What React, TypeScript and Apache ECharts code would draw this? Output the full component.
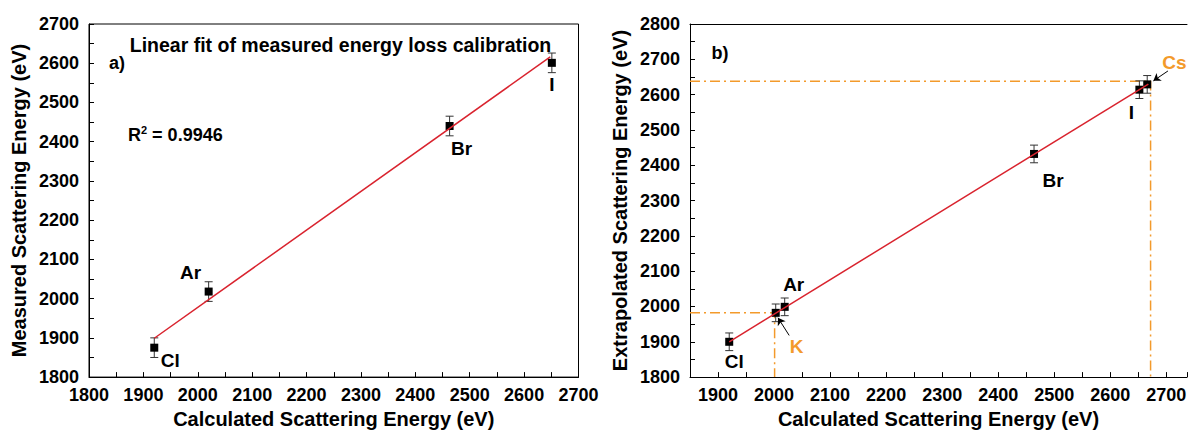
import React, { useEffect, useRef } from "react";
import * as echarts from "echarts";

// Panel a) measured vs calculated scattering energy
const elementsA = ["Cl", "Ar", "Br", "I"];
const calcA = [1920, 2020, 2463, 2651];
const measA = [1875, 2018, 2440, 2601];
const errA = [25, 25, 25, 25];
const fitAx = [1920, 2648];
const fitAy = [1899, 2616];

// Panel b) extrapolated vs calculated scattering energy
const elementsB = ["Cl", "K", "Ar", "Br", "I", "Cs"];
const calcB = [1920, 2003, 2019, 2464, 2652, 2666];
const extrapB = [1900, 1982, 1999, 2432, 2614, 2629];
const errB = [25, 25, 25, 25, 25, 25];
const fitBx = [1920, 2668];
const fitBy = [1900, 2630];

// read-off guides for K and Cs
const guideK = { x: 2001, y: 1982 };
const guideCs = { x: 2672, y: 2638 };

// arrows from the K / Cs labels to their markers
const arrowK = [[2027, 1918], [2007, 1968]];
const arrowCs = [[2703, 2667], [2677, 2639]];

const titleA = "Linear fit of measured energy loss calibration";
const r2Text = "0.9946";
const xTitle = "Calculated Scattering Energy (eV)";
const yTitleA = "Measured Scattering Energy (eV)";
const yTitleB = "Extrapolated Scattering Energy (eV)";

const FONT = "'Liberation Sans', Arial, sans-serif";
const ORANGE = "#F39A2B";
const RED = "#D9232E";

const labelOffsets: Record<string, number[]> = {
  "a-Cl": [16, 13],
  "a-Ar": [-18, -19],
  "a-Br": [12, 22],
  "a-I": [0, 22],
  "b-Cl": [5, 20],
  "b-K": [21, 34],
  "b-Ar": [9, -22],
  "b-Br": [19, 27],
  "b-I": [-8, 23],
  "b-Cs": [15, -22],
};

function makeAxis(gridIndex: number, min: number, max: number, name: string, nameGap: number, vertical: boolean) {
  return {
    type: "value",
    gridIndex,
    min,
    max,
    interval: 50,
    name,
    nameLocation: "middle",
    nameGap,
    nameTextStyle: { fontSize: 20, fontWeight: "bold", color: "#000", fontFamily: FONT },
    axisLine: { show: true, onZero: false, lineStyle: { color: "#000", width: 1 } },
    axisTick: { show: true, inside: true, length: 5, lineStyle: { color: "#000", width: 1 } },
    axisLabel: {
      formatter: (v: number) => (v % 100 === 0 ? String(v) : ""),
      fontSize: 18,
      fontWeight: "bold",
      color: "#000",
      fontFamily: FONT,
      margin: vertical ? 10 : 9,
      showMinLabel: true,
      showMaxLabel: true,
    },
    splitLine: { show: false },
  };
}

// plain frame line along the top of a panel
function topFrame(gridIndex: number, min: number, max: number) {
  return {
    type: "value",
    gridIndex,
    position: "top",
    min,
    max,
    axisLine: { show: true, onZero: false, lineStyle: { color: "#000", width: 1 } },
    axisTick: { show: false },
    axisLabel: { show: false },
    splitLine: { show: false },
  };
}

function errorBars(ax: number, xs: number[], ys: number[], es: number[]) {
  return {
    type: "custom",
    xAxisIndex: ax,
    yAxisIndex: ax,
    z: 2,
    silent: true,
    data: xs.map((x, i) => [x, ys[i], es[i]]),
    renderItem: (_p: any, api: any) => {
      const x = api.value(0);
      const y = api.value(1);
      const e = api.value(2);
      const top = api.coord([x, y + e]);
      const bot = api.coord([x, y - e]);
      const cap = 4;
      const st = { stroke: "#333", lineWidth: 1 };
      return {
        type: "group",
        children: [
          { type: "line", shape: { x1: top[0], y1: top[1], x2: bot[0], y2: bot[1] }, style: st },
          { type: "line", shape: { x1: top[0] - cap, y1: top[1], x2: top[0] + cap, y2: top[1] }, style: st },
          { type: "line", shape: { x1: bot[0] - cap, y1: bot[1], x2: bot[0] + cap, y2: bot[1] }, style: st },
        ],
      };
    },
  };
}

function points(ax: number, panel: string, names: string[], xs: number[], ys: number[]) {
  return {
    type: "scatter",
    xAxisIndex: ax,
    yAxisIndex: ax,
    symbol: "rect",
    symbolSize: 8,
    z: 3,
    itemStyle: { color: "#000", opacity: 1 },
    data: xs.map((x, i) => {
      const n = names[i];
      const orange = n === "K" || n === "Cs";
      return {
        name: n,
        value: [x, ys[i]],
        label: {
          show: true,
          formatter: n,
          position: "inside",
          align: n === "Cs" ? "left" : "center",
          verticalAlign: "middle",
          offset: labelOffsets[`${panel}-${n}`],
          fontSize: 19,
          fontWeight: "bold",
          fontFamily: FONT,
          color: orange ? ORANGE : "#000",
        },
      };
    }),
  };
}

function lineSeries(ax: number, xs: number[], ys: number[], color: string, width: number, dash?: number[], z = 4) {
  return {
    type: "line",
    xAxisIndex: ax,
    yAxisIndex: ax,
    showSymbol: false,
    symbol: "none",
    silent: true,
    z,
    lineStyle: { color, width, type: dash ?? "solid" },
    data: xs.map((x, i) => [x, ys[i]]),
  };
}

export default function App() {
  const ref = useRef<HTMLDivElement>(null);

  useEffect(() => {
    if (!ref.current) return;
    const chart = echarts.init(ref.current, null, { renderer: "svg" });
    const dashDot = [10, 4, 2, 4];
    const bMax = 2737;

    const option: any = {
      animation: false,
      backgroundColor: "#fff",
      grid: [
        { left: 89, top: 24, width: 489.5, height: 358.7, show: true, borderColor: "#000", borderWidth: 1, containLabel: false },
        // right panel runs to the page edge, open on its right side
        { left: 690, top: 24, width: 500, height: 358, show: false, containLabel: false },
      ],
      xAxis: [
        makeAxis(0, 1800, 2700, xTitle, 27, false),
        makeAxis(1, 1850, bMax, xTitle, 27, false),
        topFrame(1, 1850, bMax),
      ],
      yAxis: [makeAxis(0, 1800, 2700, yTitleA, 60, true), makeAxis(1, 1800, 2800, yTitleB, 60, true)],
      series: [
        // panel a
        lineSeries(0, fitAx, fitAy, RED, 1.5),
        errorBars(0, calcA, measA, errA),
        points(0, "a", elementsA, calcA, measA),
        // panel b guides
        lineSeries(1, [1850, guideK.x, guideK.x], [guideK.y, guideK.y, 1800], ORANGE, 1.5, dashDot, 1),
        lineSeries(1, [1850, guideCs.x, guideCs.x], [guideCs.y, guideCs.y, 1800], ORANGE, 1.5, dashDot, 1),
        lineSeries(1, fitBx, fitBy, RED, 1.5),
        errorBars(1, calcB, extrapB, errB),
        {
          ...points(1, "b", elementsB, calcB, extrapB),
          markLine: {
            silent: true,
            symbol: ["none", "arrow"],
            symbolSize: 7,
            label: { show: false },
            lineStyle: { color: "#000", width: 1, type: "solid" },
            data: [
              [{ coord: arrowK[0] }, { coord: arrowK[1] }],
              [{ coord: arrowCs[0] }, { coord: arrowCs[1] }],
            ],
          },
        },
      ],
      graphic: [
        {
          type: "text",
          x: 340.5,
          y: 45,
          style: { text: titleA, font: `bold 19.5px ${FONT}`, fill: "#000", align: "center", verticalAlign: "middle" },
        },
        {
          type: "text",
          x: 117,
          y: 63,
          style: { text: "a)", font: `bold 18px ${FONT}`, fill: "#000", align: "center", verticalAlign: "middle" },
        },
        {
          type: "text",
          x: 128,
          y: 135,
          style: {
            text: `{b|R}{s|2}{b| = ${r2Text}}`,
            align: "left",
            verticalAlign: "middle",
            fill: "#000",
            rich: {
              b: { fontSize: 18, fontWeight: "bold", fontFamily: FONT, fill: "#000" },
              s: { fontSize: 11, fontWeight: "bold", fontFamily: FONT, fill: "#000", verticalAlign: "top", padding: [0, 0, 10, 0] },
            },
          },
        },
        {
          type: "text",
          x: 720,
          y: 53,
          style: { text: "b)", font: `bold 18px ${FONT}`, fill: "#000", align: "center", verticalAlign: "middle" },
        },
      ],
    };

    chart.setOption(option);
    return () => chart.dispose();
  }, []);

  return (
    <div style={{ position: "fixed", left: 0, top: 0, width: 1190, height: 434, overflow: "hidden", background: "#fff" }}>
      <div ref={ref} style={{ width: 1190, height: 434 }} />
    </div>
  );
}
